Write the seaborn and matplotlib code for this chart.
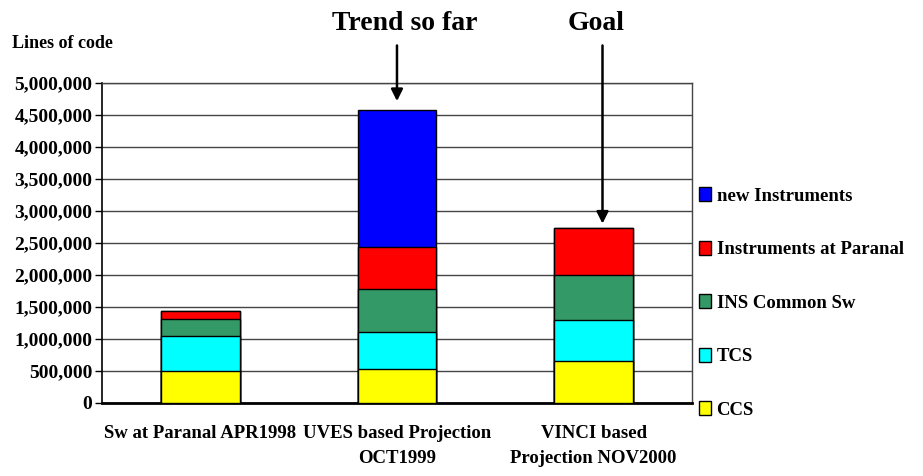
import numpy as np
import pandas as pd
import matplotlib
matplotlib.use('Agg')
import matplotlib.pyplot as plt
import seaborn as sns
from matplotlib.patches import Patch
from matplotlib.ticker import FuncFormatter, MultipleLocator

# Data (lines of code per component)
categories = ['Sw at Paranal APR1998', 'UVES based Projection\nOCT1999', 'VINCI based\nProjection NOV2000']
ccs = [505000, 530000, 661000]
tcs = [537000, 586000, 641000]
ins_common = [276000, 661000, 698000]
instr_paranal = [125000, 655000, 729000]
new_instr = [0, 2152000, 0]

layer_names = ['CCS', 'TCS', 'INS Common Sw', 'Instruments at Paranal', 'new Instruments']
layer_colors = ['#FFFF00', '#00FFFF', '#339966', '#FF0000', '#0000FF']

sns.set_theme(style='white')
plt.rcParams['font.family'] = ['Liberation Serif', 'DejaVu Serif']
plt.rcParams['font.weight'] = 'bold'
plt.rcParams['text.color'] = 'black'
plt.rcParams['xtick.color'] = 'black'
plt.rcParams['ytick.color'] = 'black'
plt.rcParams['xtick.labelcolor'] = 'black'
plt.rcParams['ytick.labelcolor'] = 'black'

df = pd.DataFrame({'category': categories, 'CCS': ccs, 'TCS': tcs,
                   'INS Common Sw': ins_common,
                   'Instruments at Paranal': instr_paranal,
                   'new Instruments': new_instr})

# cumulative heights, drawn from the tallest down so each layer sits on the one below
cum = df[layer_names].cumsum(axis=1)
cum['category'] = df['category']

fig = plt.figure(figsize=(9.23, 4.76), dpi=100)
ax = fig.add_axes([0.1105, 0.1534, 0.6392, 0.6722])

for name, color in reversed(list(zip(layer_names, layer_colors))):
    sns.barplot(data=cum, x='category', y=name, color=color, width=0.4,
                edgecolor='black', linewidth=1.0, saturation=1, ax=ax, zorder=3)

ax.set_xlim(-0.5, 2.5)
ax.set_ylim(0, 5000000)
ax.yaxis.set_major_locator(MultipleLocator(500000))
ax.yaxis.set_major_formatter(FuncFormatter(lambda v, p: f'{int(v):,}'))
ax.grid(axis='y', color='#444444', linewidth=1.0, zorder=0)
ax.set_axisbelow(True)
ax.set_xlabel('')
ax.set_ylabel('')

ax.tick_params(axis='y', which='major', left=True, direction='out', length=5,
               width=1, color='black', labelcolor='black', pad=2, labelsize=14)
ax.tick_params(axis='x', bottom=False, pad=10, labelsize=13.5, labelcolor='black')
for lab in ax.get_xticklabels():
    lab.set_linespacing(1.6)
    lab.set_fontweight('bold')
for lab in ax.get_yticklabels():
    lab.set_fontweight('bold')

for side in ['top', 'right']:
    ax.spines[side].set_color('#444444')
    ax.spines[side].set_linewidth(1.0)
ax.spines['left'].set_color('black')
ax.spines['left'].set_linewidth(1.2)
ax.spines['bottom'].set_color('black')
ax.spines['bottom'].set_linewidth(2.0)

# Legend, top entry = top layer
handles = [Patch(facecolor=c, edgecolor='black', linewidth=1.0)
           for c in reversed(layer_colors)]
fig.legend(handles, list(reversed(layer_names)), loc='upper left',
           bbox_to_anchor=(0.757, 0.607), frameon=False,
           labelspacing=1.91, handlelength=0.65, handleheight=0.8,
           handletextpad=0.3, borderaxespad=0, borderpad=0,
           labelcolor='black', prop={'weight': 'bold', 'size': 13.5})

# annotations
fig.text(0.013, 0.9076, 'Lines of code', ha='left', va='center',
         fontsize=13, fontweight='bold', color='black')
fig.text(0.439, 0.950, 'Trend so far', ha='center', va='center',
         fontsize=20, fontweight='bold', color='black')
fig.text(0.646, 0.950, 'Goal', ha='center', va='center',
         fontsize=20, fontweight='bold', color='black')

totals = cum['new Instruments'].values
arrow_props = dict(arrowstyle='-|>,head_length=0.5,head_width=0.25',
                   color='black', lw=1.8, mutation_scale=14)
ax.annotate('', xy=(1.0, totals[1] + 90000), xytext=(1.0, 5630000),
            arrowprops=arrow_props, annotation_clip=False)
ax.annotate('', xy=(2.045, totals[2] + 30000), xytext=(2.045, 5630000),
            arrowprops=arrow_props, annotation_clip=False)

fig.savefig('out.png', dpi=100)
